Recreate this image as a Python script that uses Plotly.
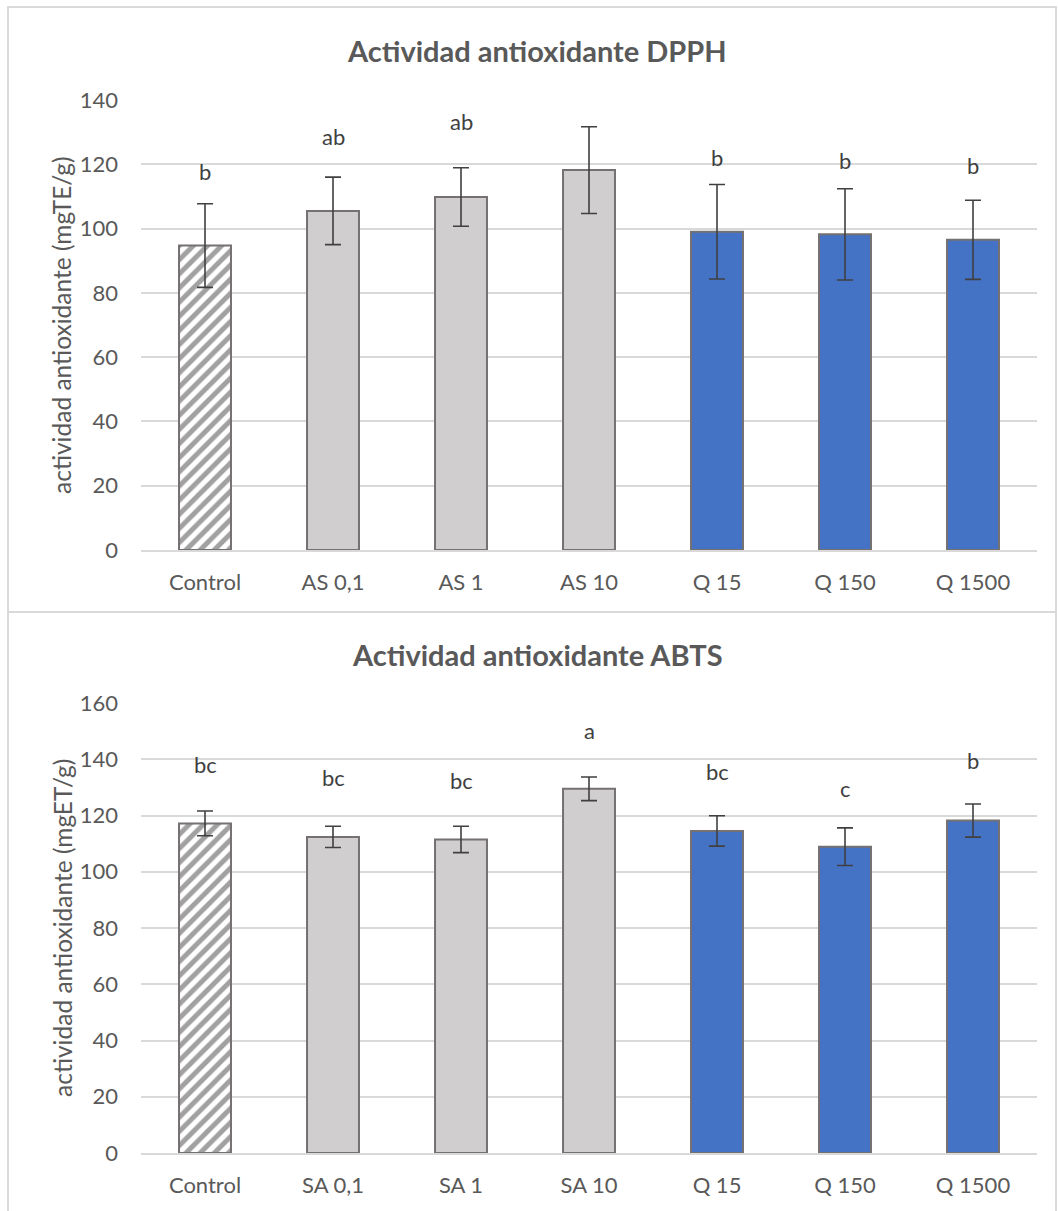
import plotly.graph_objects as go

W, H = 1058, 1211

# ---- Data ----
cats_dpph = ["Control", "AS 0,1", "AS 1", "AS 10", "Q 15", "Q 150", "Q 1500"]
dpph_vals = [94.7, 105.5, 109.8, 118.2, 99.0, 98.2, 96.5]
dpph_err = [13.0, 10.5, 9.1, 13.5, 14.7, 14.2, 12.3]
dpph_letters = ["b", "ab", "ab", "a", "b", "b", "b"]
dpph_label_y = [117.7, 128.8, 133.2, 141.0, 122.2, 121.3, 119.6]

cats_abts = ["Control", "SA 0,1", "SA 1", "SA 10", "Q 15", "Q 150", "Q 1500"]
abts_vals = [117.2, 112.4, 111.5, 129.5, 114.5, 108.9, 118.2]
abts_err = [4.4, 3.8, 4.7, 4.2, 5.4, 6.7, 5.9]
abts_letters = ["bc", "bc", "bc", "a", "bc", "c", "b"]
abts_label_y = [138.2, 133.6, 132.6, 150.4, 135.8, 129.7, 139.4]

groups = ["control", "as", "as", "as", "q", "q", "q"]

FILL = {"control": "white", "as": "#D0CECE", "q": "#4472C4"}
PAT = {"control": "/", "as": "", "q": ""}
TXT = "#595959"
GRID = "#D9D9D9"
FONT = "Lato"


def px_x(p):
    return p / W


def px_y(p):
    return 1 - p / H


fig = go.Figure()

panels = [
    dict(cats=cats_dpph, vals=dpph_vals, err=dpph_err, letters=dpph_letters,
         ly=dpph_label_y, xa="x", ya="y", top=100, bot=550, ymax=140,
         title="Actividad antioxidante DPPH", ytitle="actividad antioxidante (mgTE/g)",
         title_y=50),
    dict(cats=cats_abts, vals=abts_vals, err=abts_err, letters=abts_letters,
         ly=abts_label_y, xa="x2", ya="y2", top=703, bot=1153, ymax=160,
         title="Actividad antioxidante ABTS", ytitle="actividad antioxidante (mgET/g)",
         title_y=654),
]

annotations = []
for i, p in enumerate(panels):
    fig.add_trace(go.Bar(
        x=p["cats"], y=p["vals"],
        xaxis=p["xa"], yaxis=p["ya"],
        marker=dict(
            color=[FILL[g] for g in groups],
            line=dict(color="#767171", width=2),
            pattern=dict(shape=[PAT[g] for g in groups], fgcolor="#5F5F5F",
                         bgcolor="white", size=10, solidity=0.5),
        ),
        error_y=dict(type="data", array=p["err"], visible=True,
                     color="#404040", thickness=1.6, width=8),
        showlegend=False,
    ))
    for c, t, yv in zip(p["cats"], p["letters"], p["ly"]):
        annotations.append(dict(x=c, y=yv, xref=p["xa"], yref=p["ya"], text=t,
                                showarrow=False, font=dict(family=FONT, size=22, color="#404040"),
                                yanchor="middle"))
    annotations.append(dict(x=px_x(537), y=px_y(p["title_y"]), xref="paper", yref="paper",
                            text="<b>" + p["title"] + "</b>", showarrow=False,
                            font=dict(family=FONT, size=29, color=TXT),
                            xanchor="center", yanchor="middle"))
    annotations.append(dict(x=px_x(62), y=px_y((p["top"] + p["bot"]) / 2), xref="paper",
                            yref="paper", text=p["ytitle"], textangle=-90, showarrow=False,
                            font=dict(family=FONT, size=24.5, color=TXT),
                            xanchor="center", yanchor="middle"))

axis_common_x = dict(showgrid=False, showline=True, linecolor=GRID, linewidth=1.5,
                     ticks="", tickfont=dict(family=FONT, size=22, color=TXT),
                     ticklabelstandoff=12, fixedrange=True, automargin=False)


def yaxis(p):
    return dict(range=[0, p["ymax"]], dtick=20, showgrid=True, gridcolor=GRID, gridwidth=1.5,
                zeroline=False, showline=False, ticks="",
                tickfont=dict(family=FONT, size=22, color=TXT),
                ticklabelstandoff=22, automargin=False, fixedrange=True,
                domain=[px_y(p["bot"]), px_y(p["top"])], anchor=p["xa"])


shapes = [
    dict(type="rect", xref="paper", yref="paper", x0=px_x(8), x1=px_x(1056),
         y0=px_y(612), y1=px_y(7), line=dict(color=GRID, width=2)),
    dict(type="rect", xref="paper", yref="paper", x0=px_x(8), x1=px_x(1056),
         y0=px_y(1215), y1=px_y(612), line=dict(color=GRID, width=2)),
]

fig.update_layout(
    width=W, height=H,
    margin=dict(l=0, r=0, t=0, b=0, pad=0, autoexpand=False),
    paper_bgcolor="white", plot_bgcolor="white",
    bargap=0.594,
    showlegend=False,
    xaxis=dict(domain=[px_x(141), px_x(1037)], anchor="y", **axis_common_x),
    xaxis2=dict(domain=[px_x(141), px_x(1037)], anchor="y2", **axis_common_x),
    yaxis=yaxis(panels[0]),
    yaxis2=yaxis(panels[1]),
    annotations=annotations,
    shapes=shapes,
    font=dict(family=FONT, color=TXT),
)

# remove the default page margin so the figure sits at the window's top-left corner
fig.write_html(
    "out.html",
    config={"displayModeBar": False},
    post_script="document.body.style.margin='0';document.body.style.overflow='hidden';"
                "document.documentElement.style.overflow='hidden';",
)
